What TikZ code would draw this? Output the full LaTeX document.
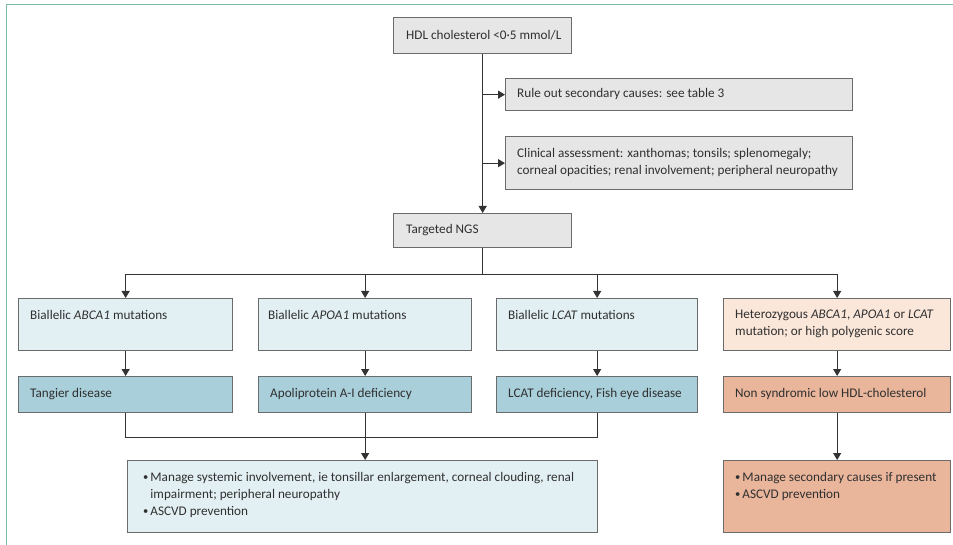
\documentclass[tikz,border=0pt]{standalone}
\usepackage{fontspec}
\setmainfont{Carlito}
\usetikzlibrary{arrows.meta,calc}
\definecolor{frameC}{HTML}{79B9A8}
\definecolor{grayF}{HTML}{E6E6E6}
\definecolor{lblue}{HTML}{E3F0F3}
\definecolor{mblue}{HTML}{A8CFDA}
\definecolor{peach}{HTML}{FBE7DA}
\definecolor{salmon}{HTML}{E9B59B}
\definecolor{edgeC}{HTML}{6B6B6B}
\definecolor{txtC}{HTML}{303030}
\newcommand\bul{\makebox[0.55em][l]{\raisebox{.15ex}{\scalebox{.8}{\textbullet}}}}
\newcommand\hng{\hspace*{0.55em}}
\begin{document}
\begin{tikzpicture}[x=1pt,y=-1pt,
  font=\fontsize{13.2}{16.8}\selectfont, text=txtC,
  boxA/.style={draw=edgeC, line width=1.3pt, inner sep=0pt, anchor=north west},
  lbl/.style={inner sep=0pt, anchor=west, align=left},
  arr/.style={draw=black!80, line width=1.1pt, -{Triangle[length=7pt,width=8pt]}},
  ln/.style={draw=black!80, line width=1.1pt}]
\useasboundingbox (0,0) rectangle (953,545);
\draw[frameC, line width=1pt] (953,4.5) -- (6.5,4.5) -- (6.5,545);
% boxes: corner, width, height
\newcommand\mkbox[6]{\node[boxA, fill=#2, minimum width=#5-#3, minimum height=#6-#4] (#1) at (#3,#4) {};}
\mkbox{hdl}{grayF}{393}{17}{571}{53}
\mkbox{rule}{grayF}{505}{78}{852}{110}
\mkbox{clin}{grayF}{505}{136}{852}{189}
\mkbox{ngs}{grayF}{393}{213}{571}{247}
\mkbox{bA}{lblue}{18}{298}{232}{350}
\mkbox{bB}{lblue}{258}{298}{471}{350}
\mkbox{bC}{lblue}{496}{298}{697}{350}
\mkbox{bD}{peach}{723}{298}{950}{350}
\mkbox{dA}{mblue}{18}{376}{232}{412}
\mkbox{dB}{mblue}{258}{376}{471}{412}
\mkbox{dC}{mblue}{496}{376}{697}{412}
\mkbox{dD}{salmon}{723}{376}{950}{412}
\mkbox{mA}{lblue}{127}{460}{597}{532}
\mkbox{mB}{salmon}{723}{460}{950}{532}
% texts
\node[lbl] (thdl) at (406,35) {HDL cholesterol <0·5 mmol/L};
\node[lbl] (trule) at (517,94) {Rule out secondary causes: see table 3};
\node[lbl] (tclin) at (517,162.5) {Clinical assessment: xanthomas; tonsils; splenomegaly;\\corneal opacities; renal involvement; peripheral neuropathy};
\node[lbl] (tngs) at (406,230) {Targeted NGS};
\node[lbl] (tbA) at (30,315) {Biallelic \textit{ABCA1} mutations};
\node[lbl] (tbB) at (268,315) {Biallelic \textit{APOA1} mutations};
\node[lbl] (tbC) at (508,315) {Biallelic \textit{LCAT} mutations};
\node[lbl] (tbD) at (735,324) {Heterozygous \textit{ABCA1}, \textit{APOA1} or \textit{LCAT}\\mutation; or high polygenic score};
\node[lbl] (tdA) at (30,394) {Tangier disease};
\node[lbl] (tdB) at (270,394) {Apoliprotein A-I deficiency};
\node[lbl] (tdC) at (508,394) {LCAT deficiency, Fish eye disease};
\node[lbl] (tdD) at (735,394) {Non syndromic low HDL-cholesterol};
\node[lbl] (tmA) at (143,495) {\bul Manage systemic involvement, ie tonsillar enlargement, corneal clouding, renal\\\hng impairment; peripheral neuropathy\\\bul ASCVD prevention};
\node[lbl] (tmB) at (735,486.5) {\bul Manage secondary causes if present\\\bul ASCVD prevention};
% connectors
\path[arr] (hdl.south) -- (ngs.north);
\path[arr] (hdl.south |- rule.west) -- (rule.west);
\path[arr] (hdl.south |- clin.west) -- (clin.west);
\coordinate (split) at ($(ngs.south)+(0,26)$);
\path[ln] (ngs.south) -- (split);
\path[ln] (bA.north |- split) -- (bD.north |- split);
\path[arr] (bA.north |- split) -- (bA.north);
\path[arr] (bB.north |- split) -- (bB.north);
\path[arr] (bC.north |- split) -- (bC.north);
\path[arr] (bD.north |- split) -- (bD.north);
\path[arr] (bA.south) -- (dA.north);
\path[arr] (bB.south) -- (dB.north);
\path[arr] (bC.south) -- (dC.north);
\path[arr] (bD.south) -- (dD.north);
\coordinate (merge) at ($(dA.south)+(0,24)$);
\path[ln] (dA.south) -- (merge) -- (dC.south |- merge) -- (dC.south);
\path[arr] (dB.south) -- (dB.south |- mA.north);
\path[arr] (dD.south) -- (mB.north);
\end{tikzpicture}
\end{document}
